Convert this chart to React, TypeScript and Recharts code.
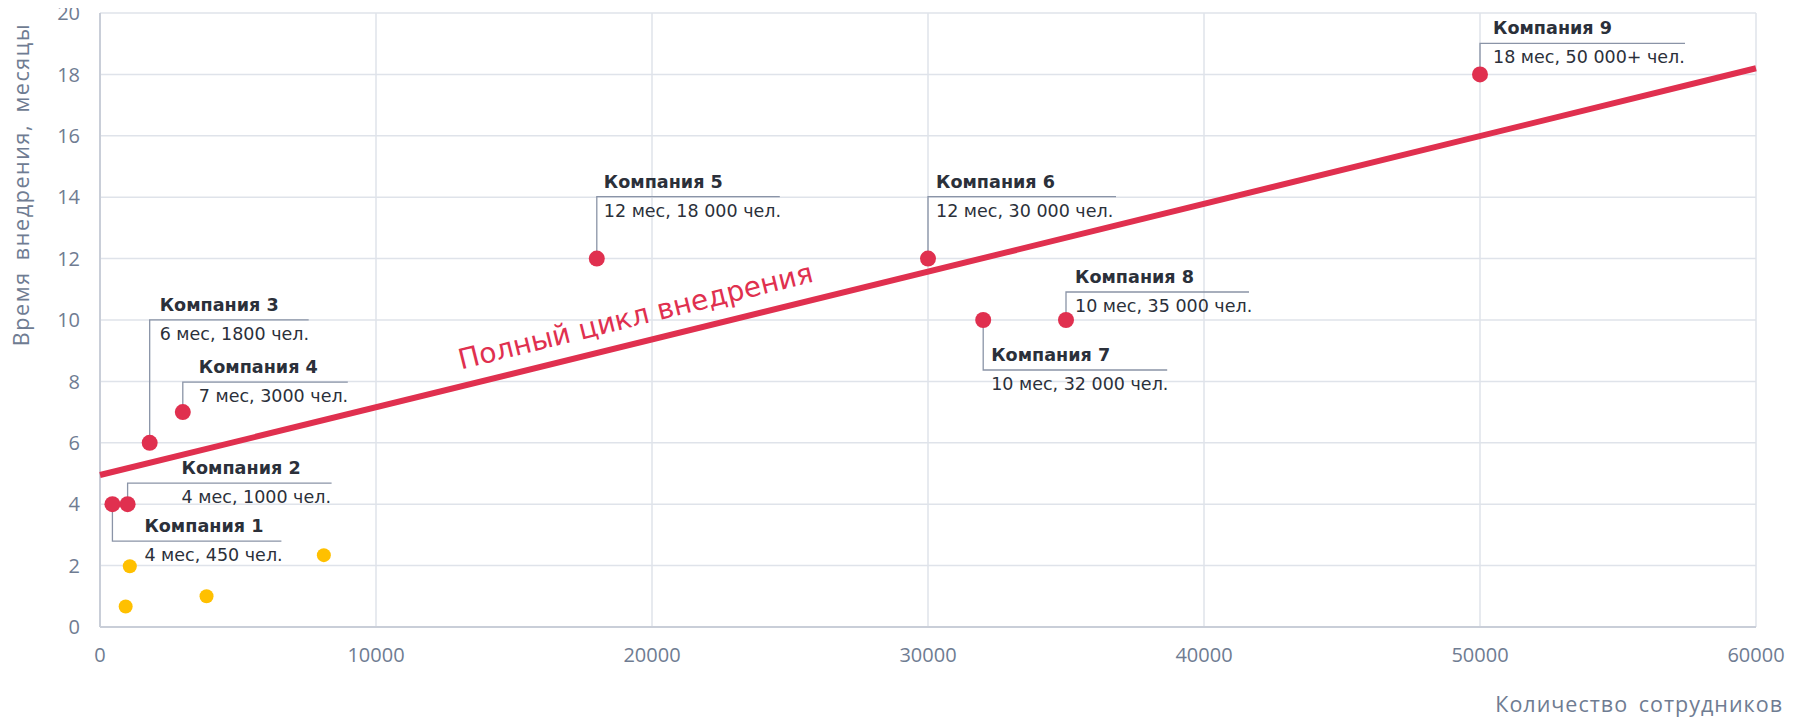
import { ScatterChart, Scatter, XAxis, YAxis, CartesianGrid, ReferenceDot, Label } from 'recharts';

// Companies on the full implementation cycle (red points with callouts)
const companies = ['Компания 1', 'Компания 2', 'Компания 3', 'Компания 4', 'Компания 5', 'Компания 6', 'Компания 7', 'Компания 8', 'Компания 9'];
const employees = [450, 1000, 1800, 3000, 18000, 30000, 32000, 35000, 50000];
const months = [4, 4, 6, 7, 12, 12, 10, 10, 18];
const details = [
  '4 мес, 450 чел.',
  '4 мес, 1000 чел.',
  '6 мес, 1800 чел.',
  '7 мес, 3000 чел.',
  '12 мес, 18 000 чел.',
  '12 мес, 30 000 чел.',
  '10 мес, 32 000 чел.',
  '10 мес, 35 000 чел.',
  '18 мес, 50 000+ чел.',
];

// Other (yellow) points
const otherEmployees = [930, 1080, 3860, 8110];
const otherMonths = [0.67, 1.98, 1.0, 2.34];

// Trend line end points
const trendEmployees = [0, 60000];
const trendMonths = [4.95, 18.2];

const xTicks = [0, 10000, 20000, 30000, 40000, 50000, 60000];
const yTicks = [0, 2, 4, 6, 8, 10, 12, 14, 16, 18, 20];

// callout layout: vertical offset of the shelf line, its length, text indent (px)
const callouts = [
  { dy: 37, len: 169, tx: 32 },
  { dy: -21, len: 204, tx: 54 },
  { dy: -123, len: 159, tx: 10 },
  { dy: -30, len: 165, tx: 16 },
  { dy: -62, len: 183, tx: 7 },
  { dy: -62, len: 188, tx: 8 },
  { dy: 50, len: 184, tx: 8 },
  { dy: -28, len: 183, tx: 9 },
  { dy: -31, len: 205, tx: 13 },
];

const RED = '#e0304f';
const YELLOW = '#ffc000';
const GRID = '#dfe3ea';
const AXIS = '#c9ced8';
const TICK = '#6f7c92';
const LEADER = '#8a94a7';
const TEXT = '#2b303a';
const LABEL_FONT = '"DejaVu Sans", Verdana, sans-serif';
const AXIS_FONT = '"Open Sans", Roboto, sans-serif';

const mainData = companies.map((name, i) => ({ idx: i, name, x: employees[i], y: months[i], detail: details[i] }));
const otherData = otherEmployees.map((x, i) => ({ x, y: otherMonths[i] }));
const trendData = trendEmployees.map((x, i) => ({ x, y: trendMonths[i] }));

const CompanyDot = (props: any) => {
  const { cx, cy, payload } = props;
  const c = callouts[payload.idx];
  const ly = cy + c.dy;
  return (
    <g>
      <polyline
        points={`${cx},${cy} ${cx},${ly} ${cx + c.len},${ly}`}
        fill="none"
        stroke={LEADER}
        strokeWidth={1.3}
      />
      <circle cx={cx} cy={cy} r={8} fill={RED} />
      <text x={cx + c.tx} y={ly - 9} fontFamily={LABEL_FONT} fontSize={17.6} fontWeight="bold" fill={TEXT}>
        {payload.name}
      </text>
      <text x={cx + c.tx} y={ly + 20} fontFamily={LABEL_FONT} fontSize={17.5} fill={TEXT}>
        {payload.detail}
      </text>
    </g>
  );
};

const OtherDot = (props: any) => <circle cx={props.cx} cy={props.cy} r={7} fill={YELLOW} />;

const CycleText = (props: any) => (
  <text
    x={props.cx}
    y={props.cy}
    textAnchor="middle"
    dominantBaseline="central"
    transform={`rotate(-14 ${props.cx} ${props.cy})`}
    fontFamily={LABEL_FONT}
    fontSize={28}
    fill={RED}
  >
    Полный цикл внедрения
  </text>
);

export default function App() {
  return (
    <div style={{ width: 1806, height: 728, margin: '-8px 0 0 -8px', fontFamily: AXIS_FONT }}>
      <ScatterChart width={1806} height={728} margin={{ top: 13, right: 50, bottom: 0, left: 8 }}>
        <CartesianGrid stroke={GRID} strokeWidth={1.5} />
        <XAxis
          type="number"
          dataKey="x"
          domain={[0, 60000]}
          ticks={xTicks}
          height={101}
          tickLine={false}
          tickSize={0}
          tickMargin={21}
          axisLine={{ stroke: AXIS, strokeWidth: 2 }}
          tick={{ fontSize: 20, fill: TICK, fontFamily: AXIS_FONT }}
        >
          <Label
            content={({ viewBox }: any) => (
              <text
                x={viewBox.x + viewBox.width + 27}
                y={viewBox.y + 85}
                textAnchor="end"
                fontFamily={AXIS_FONT}
                fontSize={21.5}
                letterSpacing={1}
                wordSpacing={4}
                fill={TICK}
              >
                Количество сотрудников
              </text>
            )}
          />
        </XAxis>
        <YAxis
          type="number"
          dataKey="y"
          domain={[0, 20]}
          ticks={yTicks}
          width={92}
          tickLine={false}
          tickSize={0}
          tickMargin={20}
          axisLine={{ stroke: AXIS, strokeWidth: 2 }}
          tick={{ fontSize: 20, fill: TICK, fontFamily: AXIS_FONT }}
        >
          <Label
            content={() => (
              <text
                x={29}
                y={23}
                transform="rotate(-90 29 23)"
                textAnchor="end"
                fontFamily={AXIS_FONT}
                fontSize={21.5}
                letterSpacing={1.6}
                wordSpacing={4}
                fill={TICK}
              >
                Время внедрения, месяцы
              </text>
            )}
          />
        </YAxis>
        <Scatter data={otherData} fill={YELLOW} shape={OtherDot} isAnimationActive={false} />
        <Scatter
          data={trendData}
          line={{ stroke: RED, strokeWidth: 6 }}
          shape={() => null}
          isAnimationActive={false}
        />
        <Scatter data={mainData} fill={RED} shape={CompanyDot} isAnimationActive={false} />
        <ReferenceDot x={19400} y={10.12} r={0} shape={CycleText} />
      </ScatterChart>
    </div>
  );
}
